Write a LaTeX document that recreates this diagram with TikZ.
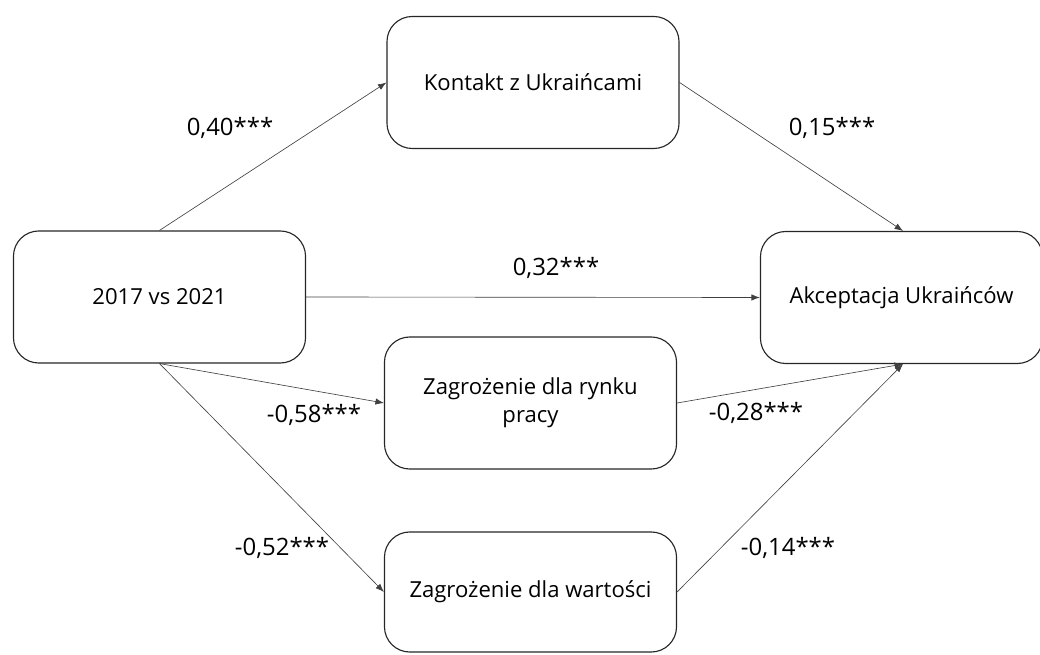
\documentclass[tikz,border=0pt]{standalone}
\usepackage{fontspec}
\setmainfont{Open Sans}
\usetikzlibrary{arrows.meta}
\begin{document}
\begin{tikzpicture}[x=0.025cm, y=-0.025cm, >={Latex[length=6pt,width=4.5pt]}, line join=round, line cap=round,
	box/.style={draw=black!85, line width=0.8pt, rounded corners=18pt, inner sep=0pt, align=center,
		minimum width=7.3cm, minimum height=3.3cm, font=\fontsize{15.7}{20}\selectfont},
	path/.style={draw=black!75, line width=0.45pt, ->},
	coef/.style={font=\fontsize{17}{20}\selectfont, inner sep=0pt}]
	\useasboundingbox (0,0) rectangle (1040,655);
	% Węzły
	\node[box] (rok) at (159.5,297) {2017 vs 2021};
	\node[box] (kontakt) at (533,82.5) {Kontakt z Ukraińcami};
	\node[box, minimum width=7.05cm] (akc) at (901.5,297.5) {Akceptacja Ukraińców};
	\node[box] (rynek) at (530.5,403) {Zagrożenie dla rynku\\pracy};
	\node[box, minimum height=3cm] (wart) at (530.5,592) {Zagrożenie dla wartości};
	% Ścieżki
	\coordinate (akcN) at ([xshift=1.5*0.025cm]akc.north);
	\coordinate (akcS) at ([xshift=1.5*0.025cm]akc.south);
	\draw[path] (rok.north) -- (kontakt.west);
	\draw[path] (kontakt.east) -- (akcN);
	\draw[path] (rok.east) -- (akc.west);
	\draw[path] (rok.south) -- (rynek.west);
	\draw[path] (rynek.east) -- (akcS);
	\draw[path] (rok.south) -- (wart.west);
	\draw[path] (wart.east) -- (akcS);
	% Współczynniki
	\node[coef] (b1) at (230,128) {0,40***};
	\node[coef] (b2) at (832,128) {0,15***};
	\node[coef] (b3) at (556,268) {0,32***};
	\node[coef] (b4) at (314,415) {-0,58***};
	\node[coef] (b5) at (756,413) {-0,28***};
	\node[coef] (b6) at (282,548) {-0,52***};
	\node[coef] (b7) at (788,548) {-0,14***};
\end{tikzpicture}
\end{document}
